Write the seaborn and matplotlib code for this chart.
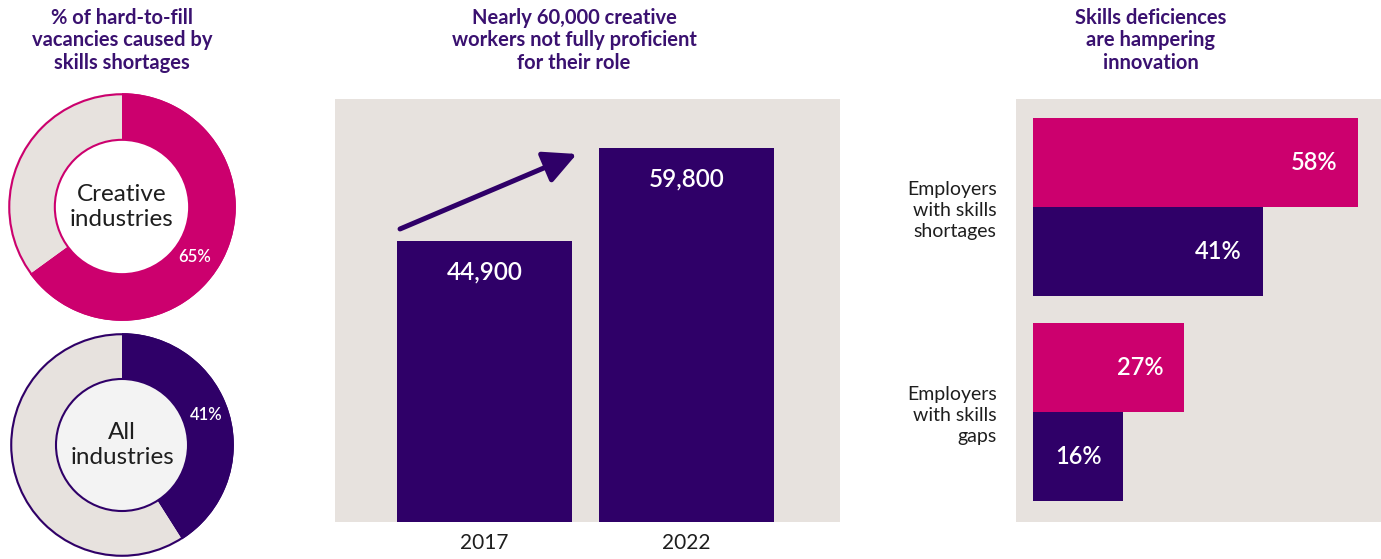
import numpy as np
import pandas as pd
import seaborn as sns
import matplotlib.pyplot as plt
from matplotlib.patches import Circle

## data
donut_labels = ["Creative\nindustries", "All\nindustries"]
donut_values = [65, 41]

years = ["2017", "2022"]
workers = [44900, 59800]

categories = ["Employers\nwith skills\nshortages", "Employers\nwith skills\ngaps"]
groups = ["Creative industries", "All industries"]
creative_pct = [58, 27]
all_pct = [41, 16]

titles = ["% of hard-to-fill\nvacancies caused by\nskills shortages",
          "Nearly 60,000 creative\nworkers not fully proficient\nfor their role",
          "Skills deficiences\nare hampering\ninnovation"]

## colours
PINK = "#cc006e"
PURPLE = "#2f0068"
BG = "#e7e2de"
TITLE = "#3a1170"
INK = "#1e1e1e"

sns.set_theme(style="white")
plt.rcParams["font.family"] = ["Lato", "DejaVu Sans"]

W, H = 1381, 559
fig = plt.figure(figsize=(W / 100, H / 100), dpi=100)


def px_axes(x0, y0, x1, y1):
    # axes placed in pixel coords (top-left origin)
    return fig.add_axes([x0 / W, 1 - y1 / H, (x1 - x0) / W, (y1 - y0) / H])


## donuts
donut_specs = [
    # cx, cy, r, colour, hole fill, pct label position
    (122, 207, 115, PINK, "white", (0.64, -0.44)),
    (122, 445, 113, PURPLE, "#f3f3f3", (0.75, 0.27)),
]
for (cx, cy, r, col, hole, lpos), lab, val in zip(donut_specs, donut_labels, donut_values):
    ax = px_axes(cx - r, cy - r, cx + r, cy + r)
    ax.pie([val, 100 - val], colors=[col, BG], startangle=90, counterclock=False,
           radius=1, wedgeprops=dict(width=0.41, linewidth=0))
    ax.add_patch(Circle((0, 0), 0.99, fill=False, ec=col, lw=1.5))
    ax.add_patch(Circle((0, 0), 0.59, fc=hole, ec=col, lw=1.5))
    ax.text(0, 0, lab, ha="center", va="center", fontsize=17.5, color=INK, linespacing=1.25)
    ax.text(lpos[0], lpos[1], f"{val}%", ha="center", va="center", fontsize=12,
            color="white", weight="semibold")
    ax.set_xlim(-1.01, 1.01)
    ax.set_ylim(-1.01, 1.01)
    ax.axis("off")

## middle bar chart
ax = px_axes(335, 99, 840, 522)
ax.set_facecolor(BG)
bw = 0.866
sns.barplot(x=years, y=workers, color=PURPLE, saturation=1, width=bw, linewidth=0, ax=ax)
ax.set_ylim(0, 67700)
ax.set_xlim(-0.74, 1.76)
for i, v in enumerate(workers):
    ax.annotate(f"{v:,}", xy=(i, v), xytext=(0, -22), textcoords="offset points",
                ha="center", va="center", fontsize=17.5, color="white", weight="semibold")
# growth arrow
ax.annotate("", xy=(1 - bw / 2 - 0.11, workers[1] - 900),
            xytext=(0 - bw / 2 + 0.015, workers[0] + 2000),
            arrowprops=dict(arrowstyle="-|>,head_length=1.0,head_width=0.5",
                            mutation_scale=20, lw=3.6, color=PURPLE,
                            shrinkA=0, shrinkB=0, capstyle="round"))
ax.set_yticks([])
ax.set_xlabel("")
ax.set_ylabel("")
ax.tick_params(axis="x", length=0, pad=8, labelsize=15, labelcolor=INK)
sns.despine(ax=ax, left=True, bottom=True)

## right horizontal bars
df = pd.DataFrame({
    "category": categories * 2,
    "group": [groups[0]] * 2 + [groups[1]] * 2,
    "pct": creative_pct + all_pct,
})
ax = px_axes(1016, 99, 1381, 522)
ax.set_facecolor(BG)
sns.barplot(data=df, y="category", x="pct", hue="group", hue_order=groups,
            palette=[PINK, PURPLE], orient="h", width=0.868, saturation=1,
            legend=False, linewidth=0, ax=ax)
ax.set_xlim(-3, 62.1)
ax.set_ylim(1.537, -0.527)
for cont in ax.containers:
    for bar in cont:
        w = bar.get_width()
        y = bar.get_y() + bar.get_height() / 2
        ax.annotate(f"{w:.0f}%", xy=(w, y), xytext=(-15, 0), textcoords="offset points",
                    ha="right", va="center", fontsize=17, color="white", weight="semibold")
ax.set_xticks([])
ax.set_xlabel("")
ax.set_ylabel("")
ax.tick_params(axis="y", length=0, pad=14, labelsize=14, labelcolor=INK)
for t in ax.get_yticklabels():
    t.set_multialignment("right")
    t.set_linespacing(1.3)
sns.despine(ax=ax, left=True, bottom=True)

## titles
for x, t in zip([122, 574, 1151], titles):
    fig.text(x / W, 1 - 8 / H, t, ha="center", va="top", fontsize=14.5, weight="bold",
             color=TITLE, linespacing=1.15)

fig.savefig("out.png", dpi=100)
